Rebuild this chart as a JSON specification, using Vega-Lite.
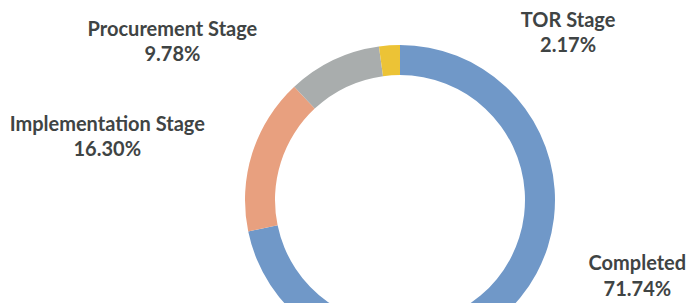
{
  "$schema": "https://vega.github.io/schema/vega-lite/v6.json",
  "width": 800,
  "height": 400,
  "padding": 0,
  "autosize": "none",
  "background": "white",
  "view": {"stroke": null},
  "data": {
    "values": [
      {"stage": "Completed", "pct": 71.74, "ord": 1},
      {"stage": "Implementation Stage", "pct": 16.30, "ord": 2},
      {"stage": "Procurement Stage", "pct": 9.78, "ord": 3},
      {"stage": "TOR Stage", "pct": 2.17, "ord": 4}
    ]
  },
  "transform": [
    {"calculate": "datum.stage + '\\n' + format(datum.pct, '.2f') + '%'", "as": "label"}
  ],
  "encoding": {
    "theta": {"field": "pct", "type": "quantitative", "stack": true},
    "order": {"field": "ord", "type": "quantitative"},
    "color": {
      "field": "stage",
      "type": "nominal",
      "scale": {
        "domain": ["Completed", "Implementation Stage", "Procurement Stage", "TOR Stage"],
        "range": ["#7098c8", "#e8a07f", "#a9adad", "#ecc336"]
      },
      "legend": null
    }
  },
  "layer": [
    {"mark": {"type": "arc", "outerRadius": 155, "innerRadius": 125}},
    {
      "mark": {"type": "text", "radius": 190, "dx": 90, "dy": -56, "font": "Lato", "fontWeight": "bold", "fontSize": 20, "lineBreak": "\n", "lineHeight": 26, "align": "center", "baseline": "middle"},
      "encoding": {
        "text": {"condition": {"test": "datum.stage === 'Completed'", "field": "label"}, "value": ""},
        "color": {"value": "#3f4444"}
      }
    },
    {
      "mark": {"type": "text", "radius": 240, "dx": -64, "dy": -2, "font": "Lato", "fontWeight": "bold", "fontSize": 20, "lineBreak": "\n", "lineHeight": 25, "align": "center", "baseline": "middle"},
      "encoding": {
        "text": {"condition": {"test": "datum.stage === 'Implementation Stage'", "field": "label"}, "value": ""},
        "color": {"value": "#3f4444"}
      }
    },
    {
      "mark": {"type": "text", "radius": 190, "dx": -146, "dy": 2, "font": "Lato", "fontWeight": "bold", "fontSize": 20, "lineBreak": "\n", "lineHeight": 25, "align": "center", "baseline": "middle"},
      "encoding": {
        "text": {"condition": {"test": "datum.stage === 'Procurement Stage'", "field": "label"}, "value": ""},
        "color": {"value": "#3f4444"}
      }
    },
    {
      "mark": {"type": "text", "radius": 175, "dx": 180, "dy": -4, "font": "Lato", "fontWeight": "bold", "fontSize": 20, "lineBreak": "\n", "lineHeight": 25, "align": "center", "baseline": "middle"},
      "encoding": {
        "text": {"condition": {"test": "datum.stage === 'TOR Stage'", "field": "label"}, "value": ""},
        "color": {"value": "#3f4444"}
      }
    }
  ]
}
